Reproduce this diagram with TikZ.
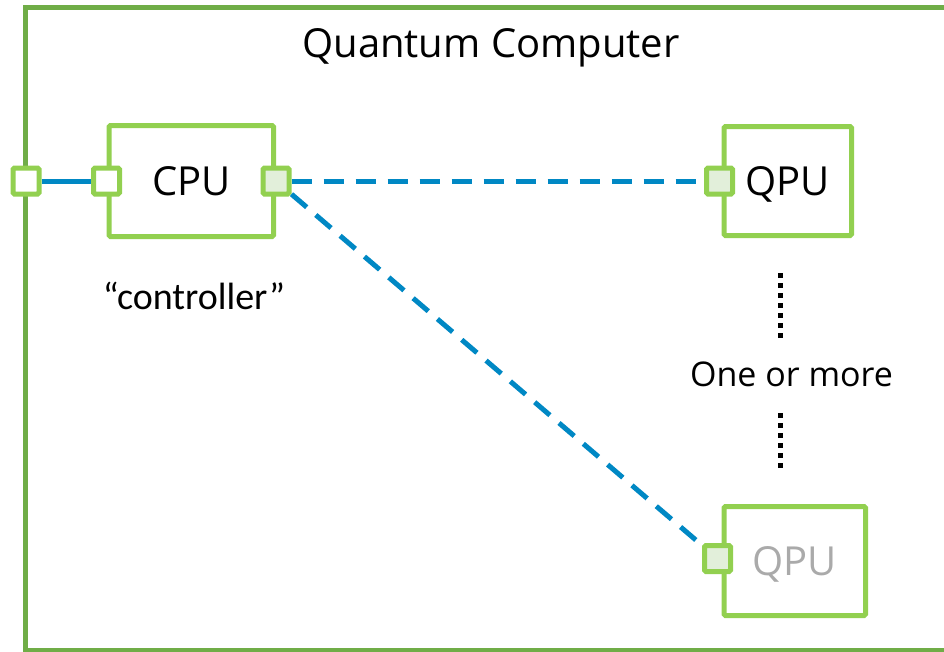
\documentclass[tikz,border=0pt]{standalone}
\usepackage{fontspec}
\setmainfont{Open Sans}
\newfontfamily\quotefont{Carlito}
\usetikzlibrary{positioning}
\definecolor{framegreen}{RGB}{112,173,71}
\definecolor{boxgreen}{RGB}{146,208,80}
\definecolor{portfill}{RGB}{226,239,218}
\definecolor{linkblue}{RGB}{0,136,196}
\definecolor{fadedtext}{RGB}{170,170,170}

\begin{document}
\begin{tikzpicture}[x=1pt,y=-1pt,
  unit/.style={draw=boxgreen,line width=5pt,rounded corners=1.5pt,inner sep=0,
    text depth=0pt,font=\fontsize{40}{48}\selectfont},
  port/.style={draw=boxgreen,line width=5pt,rounded corners=1.5pt,inner sep=0,
    minimum size=26pt,fill=white},
  used port/.style={port,fill=portfill},
  link/.style={linkblue,line width=5pt},
  dashed link/.style={link,dash pattern=on 20pt off 12pt},
  dotline/.style={black,line width=5pt,dash pattern=on 5pt off 5pt}]
  \useasboundingbox (0,0) rectangle (944,651);
  \clip (0,0) rectangle (944,651);
  \draw[framegreen,line width=5pt] (25.5,7) rectangle (990,650);
  \node(title)[anchor=base,font=\fontsize{40}{48}\selectfont] at (491,57) {Quantum Computer};

  \node(cpu)[unit,minimum width=164.5pt,minimum height=111pt] at (191.25,181) {CPU};
  \node(qpu)[unit,minimum width=127.5pt,minimum height=109pt] at (787.75,181) {QPU};
  \node(qpux)[unit,minimum width=141.5pt,minimum height=109pt,text=fadedtext] at (794.75,561) {QPU};

  \node(extport)[port] at (26,181) {};
  \node(cpuin)[port] at (cpu.west) {};
  \node(cpuout)[used port] at (cpu.east) {};
  \node(qpuin)[used port] at ([xshift=-2pt]qpu.west) {};
  \node(qpuxin)[used port] at ([xshift=-4pt,yshift=2.5pt]qpux.west) {};

  \node(ctrl)[anchor=base,font=\quotefont\fontsize{38}{46}\selectfont] at (194,309) {“controller”};
  \node(more)[anchor=base,font=\fontsize{34}{40}\selectfont] at (791.5,386) {One or more};

  \coordinate(d1) at (780,273);
  \coordinate(d2) at (780,340);
  \coordinate(d3) at (780,413);
  \coordinate(d4) at (780,472);

  \draw[link] (extport) -- (cpuin);
  \draw[dashed link] (cpuout) -- (qpuin);
  \draw[dashed link] (cpuout) -- (qpuxin);
  \draw[dotline] (d1) -- (d2);
  \draw[dotline] (d3) -- (d4);
\end{tikzpicture}
\end{document}
